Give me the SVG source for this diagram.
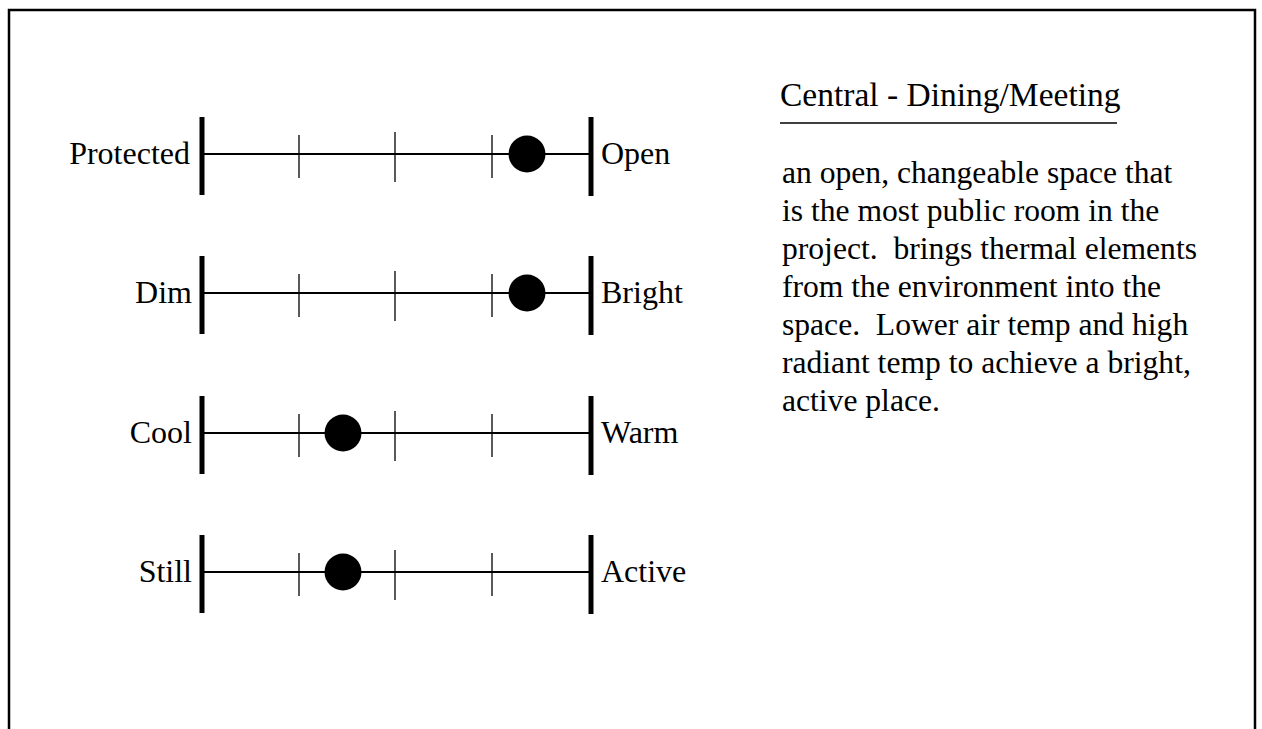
<svg xmlns="http://www.w3.org/2000/svg" width="1262" height="729" viewBox="0 0 1262 729">
<style>
text{font-family:"Liberation Serif","Times New Roman",serif;fill:#000}
.lab{font-size:32px}
.r{text-anchor:end}
.title{font-size:33.5px}
.para{font-size:31.6px;white-space:pre}
.frame{fill:none;stroke:#000;stroke-width:2.5}
.bar{stroke:#000;stroke-width:5}
.axis{stroke:#000;stroke-width:2}
.tick{stroke:#000;stroke-width:1.3}
.dot{fill:#000}
</style>
<defs>
<g id="scale">
<line class="axis" x1="202" y1="0" x2="591" y2="0"/>
<line class="bar" x1="202" y1="-37" x2="202" y2="41"/>
<line class="bar" x1="591" y1="-37" x2="591" y2="42"/>
<line class="tick" x1="299" y1="-19" x2="299" y2="24"/>
<line class="tick" x1="395" y1="-22" x2="395" y2="28"/>
<line class="tick" x1="492" y1="-19" x2="492" y2="24"/>
</g>
</defs>
<path class="frame" d="M9,729 V10 H1255 V729"/>
<g id="scale-protected-open">
<use href="#scale" transform="translate(0,154)"/>
<circle class="dot" cx="527" cy="154" r="18.5"/>
<text class="lab r" x="190" y="164">Protected</text>
<text class="lab" x="601" y="164">Open</text>
</g>
<g id="scale-dim-bright">
<use href="#scale" transform="translate(0,293)"/>
<circle class="dot" cx="527" cy="293" r="18.5"/>
<text class="lab r" x="192" y="303">Dim</text>
<text class="lab" x="601" y="303">Bright</text>
</g>
<g id="scale-cool-warm">
<use href="#scale" transform="translate(0,433)"/>
<circle class="dot" cx="343" cy="433" r="18.5"/>
<text class="lab r" x="192" y="443">Cool</text>
<text class="lab" x="601" y="443">Warm</text>
</g>
<g id="scale-still-active">
<use href="#scale" transform="translate(0,572)"/>
<circle class="dot" cx="343" cy="572" r="18.5"/>
<text class="lab r" x="192" y="582">Still</text>
<text class="lab" x="601" y="582">Active</text>
</g>
<g id="description">
<text class="title" x="780" y="106">Central - Dining/Meeting</text>
<line x1="780" y1="123" x2="1117" y2="123" stroke="#000" stroke-width="1.5"/>
<text class="para" x="782" y="183">an open, changeable space that</text>
<text class="para" x="782" y="221">is the most public room in the</text>
<text class="para" x="782" y="259">project.  brings thermal elements</text>
<text class="para" x="782" y="297">from the environment into the</text>
<text class="para" x="782" y="335">space.  Lower air temp and high</text>
<text class="para" x="782" y="373">radiant temp to achieve a bright,</text>
<text class="para" x="782" y="411">active place.</text>
</g>
<g id="connectors"/>
</svg>
